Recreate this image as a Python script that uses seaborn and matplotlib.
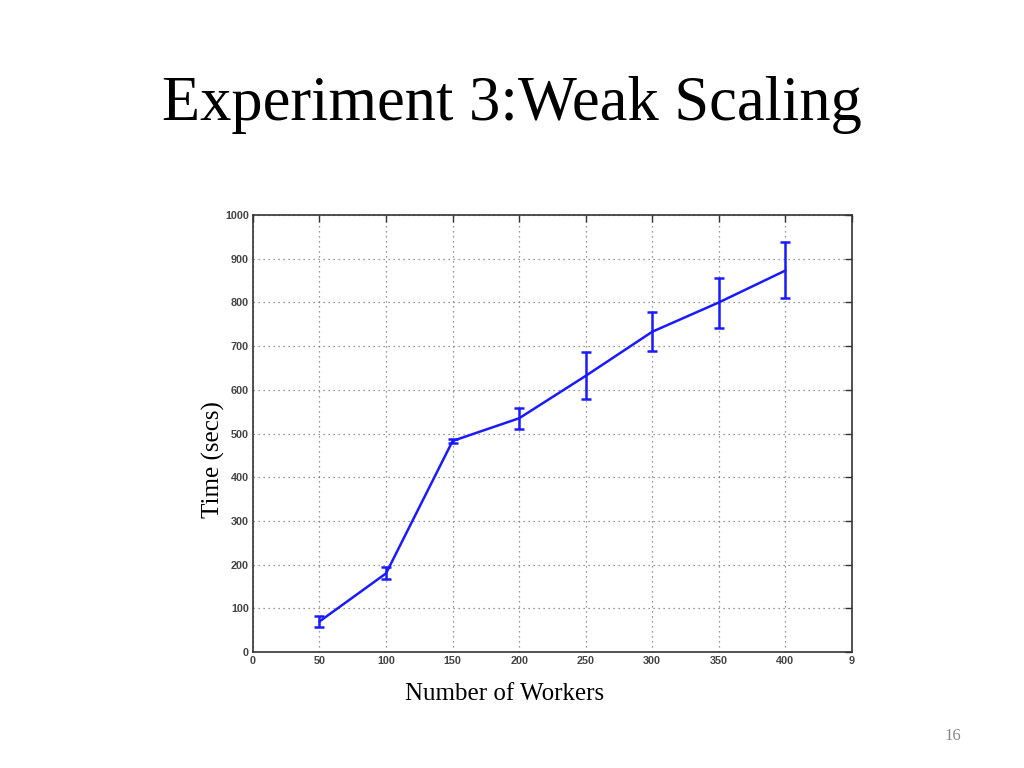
import matplotlib
matplotlib.use('Agg')
import matplotlib.pyplot as plt
import seaborn as sns
import pandas as pd
import numpy as np

#   values
workers = [50, 100, 150, 200, 250, 300, 350, 400]
time_mean = [70, 180, 483, 535, 632, 733, 800, 873]
time_low = [57, 167, 478, 511, 578, 689, 742, 810]
time_high = [82, 195, 488, 558, 686, 778, 855, 938]
x_ticks = [0, 50, 100, 150, 200, 250, 300, 350, 400, 450]
x_tick_labels = ['0', '50', '100', '150', '200', '250', '300', '350', '400', '9']
y_ticks = [0, 100, 200, 300, 400, 500, 600, 700, 800, 900, 1000]

df = pd.DataFrame({'workers': workers, 'time': time_mean,
                   'low': time_low, 'high': time_high})

sns.set_style('white')
plt.rcParams['font.family'] = ['Liberation Serif', 'DejaVu Serif']
plt.rcParams['text.color'] = 'black'

fig = plt.figure(figsize=(10.24, 7.68), dpi=100)
ax = fig.add_axes([0.247, 0.151, 0.585, 0.569])

blue = '#1a1aff'
sns.lineplot(data=df, x='workers', y='time', ax=ax, color=blue, linewidth=1.8)
ax.errorbar(df['workers'], df['time'],
            yerr=[df['time'] - df['low'], df['high'] - df['time']],
            fmt='none', ecolor=blue, elinewidth=1.8, capsize=3.8, capthick=1.8)

ax.set_xlim(0, 450)
ax.set_ylim(0, 1000)
ax.set_xticks(x_ticks)
ax.set_xticklabels(x_tick_labels)
ax.set_yticks(y_ticks)

#   matlab style frame and grid
ax.grid(True, linestyle=(0, (1, 3)), color='#777777', linewidth=0.9)
for s in ax.spines.values():
    s.set_color('#333333')
    s.set_linewidth(1.2)
ax.tick_params(direction='in', length=5, width=1, color='#333333',
               top=True, right=True, pad=3)
for lab in ax.get_xticklabels() + ax.get_yticklabels():
    lab.set_family('Liberation Sans')
    lab.set_fontsize(7.8)
    lab.set_fontweight('bold')
    lab.set_color('#444444')

ax.set_xlabel('')
ax.set_ylabel('')
fig.text(0.493, 0.097, 'Number of Workers', fontsize=18,
         ha='center', va='center')
fig.text(0.208, 0.402, 'Time (secs)', fontsize=18, rotation=90,
         ha='center', va='center')

fig.text(0.5, 0.863, 'Experiment 3:Weak Scaling', fontsize=45,
         ha='center', va='center')
fig.text(0.931, 0.042, '16', fontsize=12, color='#888888',
         ha='center', va='center')

plt.savefig('out.png', dpi=100)
